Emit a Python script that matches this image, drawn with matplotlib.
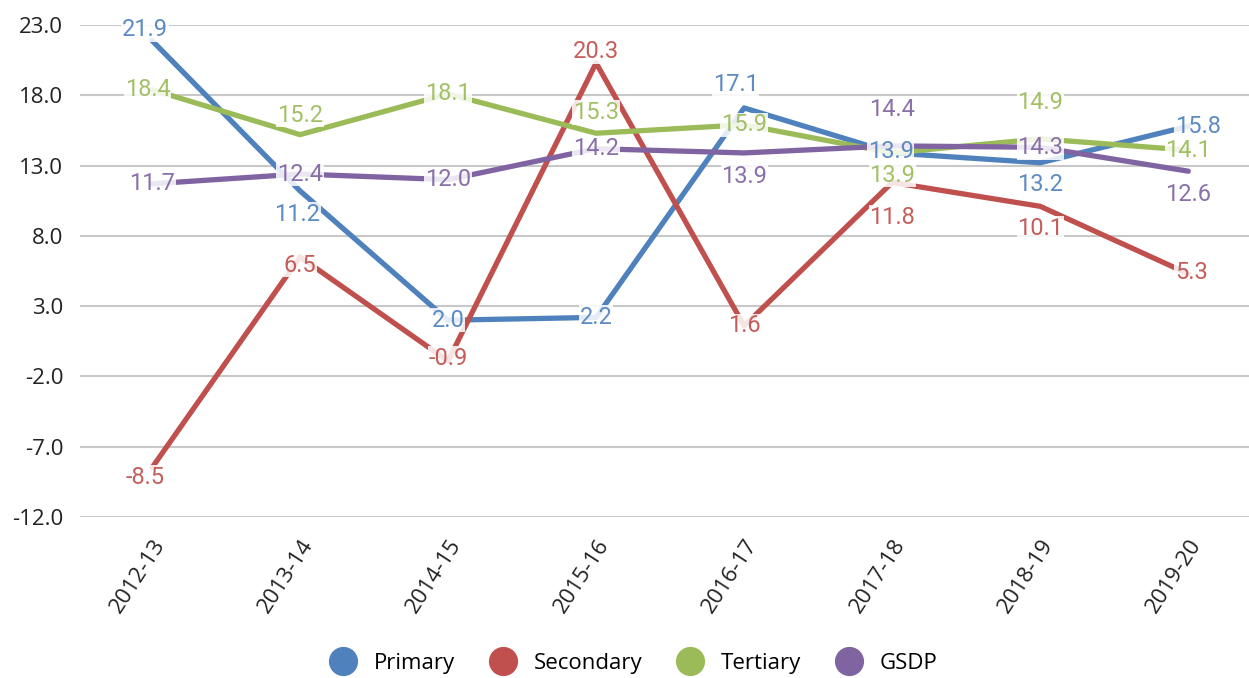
import matplotlib
matplotlib.use("Agg")
import matplotlib.pyplot as plt
from matplotlib.lines import Line2D

years = ["2012-13", "2013-14", "2014-15", "2015-16", "2016-17", "2017-18", "2018-19", "2019-20"]
primary = [21.9, 11.2, 2.0, 2.2, 17.1, 13.9, 13.2, 15.8]
secondary = [-8.5, 6.5, -0.9, 20.3, 1.6, 11.8, 10.1, 5.3]
tertiary = [18.4, 15.2, 18.1, 15.3, 15.9, 13.9, 14.9, 14.1]
gsdp = [11.7, 12.4, 12.0, 14.2, 13.9, 14.4, 14.3, 12.6]
names = ["Primary", "Secondary", "Tertiary", "GSDP"]
colors = ["#4F81BD", "#C0504D", "#9BBB59", "#8064A2"]

# label offsets in points (dx, dy) so the numbers sit like in the original
offsets = [
    [(-5, 8), (-2, -17), (0, 0), (0, 0), (-6, 17), (-1, 1), (0, -16), (7, 0)],
    [(-5, -7), (0, -6), (0, 2), (0, 8), (0, 0), (0, -25), (0, -16), (2, 1)],
    [(-3, 0), (0, 14), (0, 0), (0, 15), (0, 0), (0, -16), (0, 26), (0, 0)],
    [(0, 0), (0, 0), (0, 0), (0, 0), (0, -17), (0, 26), (0, 0), (0, -17)],
]

fig = plt.figure(figsize=(12.49, 6.78), dpi=100)
ax = fig.add_axes([80 / 1249, 161 / 678, 1169 / 1249, 492 / 678])

x = range(len(years))
series = [primary, secondary, tertiary, gsdp]
for vals, c in zip(series, colors):
    ax.plot(x, vals, color=c, lw=3.8, solid_capstyle="round", zorder=3)

for vals, c, offs in zip(series, colors, offsets):
    for i, v in enumerate(vals):
        ax.annotate("%.1f" % v, (i, v), xytext=offs[i], textcoords="offset points",
                    ha="center", va="center", fontsize=17, family="Roboto",
                    color=c, alpha=0.92, zorder=5,
                    bbox=dict(boxstyle="square,pad=0.03", fc="white", ec="none", alpha=0.85))

ax.set_ylim(-12, 23)
ax.set_xlim(-0.486, 7.41)
ax.set_yticks([-12, -7, -2, 3, 8, 13, 18, 23])
ax.set_yticklabels(["%.1f" % t for t in [-12, -7, -2, 3, 8, 13, 18, 23]],
                   fontsize=16, family="Open Sans", color="#222222")
ax.set_xticks(list(x))
ax.set_xticklabels(years, rotation=57, ha="right", rotation_mode="anchor",
                   fontsize=16, family="Open Sans", color="#222222")
ax.tick_params(length=0, pad=12)
ax.tick_params(axis="x", pad=13)
ax.grid(axis="y", color="#c8c8c8", lw=1.5)
ax.set_axisbelow(True)
for s in ax.spines.values():
    s.set_visible(False)

handles = [Line2D([], [], marker="o", ls="none", markersize=20, color=c) for c in colors]
fig.legend(handles, names, loc="center", bbox_to_anchor=(0.506, 0.022), ncol=4,
           frameon=False, prop={"family": "Open Sans", "size": 16},
           handlelength=1.5, handletextpad=0.64, columnspacing=1.4)

fig.savefig("out.png", dpi=100)
